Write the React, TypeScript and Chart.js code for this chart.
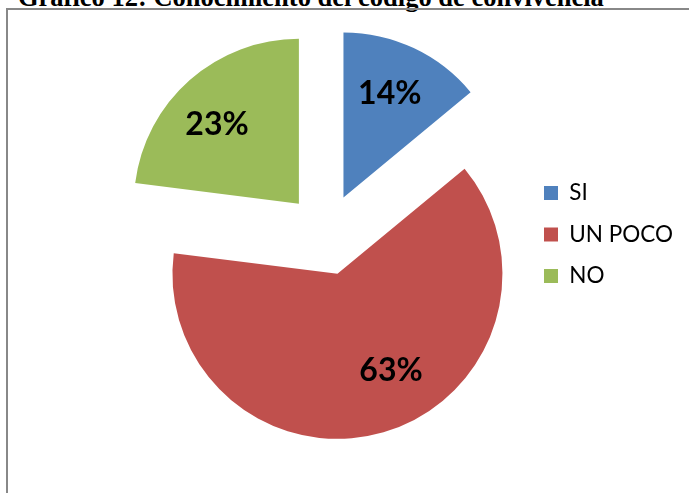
import { useEffect, useRef } from "react";
import { Chart, registerables } from "chart.js";

Chart.register(...registerables);

const categories = ["SI", "UN POCO", "NO"];
const values = [14, 63, 23];
const colors = ["#4F81BD", "#C0504D", "#9BBB59"];
const titleText = "Gráfico 12: Conocimiento del código de convivencia";

const explodePlugin = {
  id: "explode",
  afterDatasetsUpdate(chart: any, _args: any, opts: any) {
    const area = chart.chartArea;
    const cx = (area.left + area.right) / 2;
    const cy = (area.top + area.bottom) / 2;
    const meta = chart.getDatasetMeta(0);
    meta.data.forEach((arc: any) => {
      const mid = (arc.startAngle + arc.endAngle) / 2;
      arc.x = cx + Math.cos(mid) * opts.distance;
      arc.y = cy + Math.sin(mid) * opts.distance;
    });
  },
};

const sliceLabelPlugin = {
  id: "sliceLabels",
  afterDatasetsDraw(chart: any, _args: any, opts: any) {
    const ctx = chart.ctx;
    const meta = chart.getDatasetMeta(0);
    ctx.save();
    ctx.font = opts.font;
    ctx.fillStyle = opts.color;
    ctx.textAlign = "center";
    ctx.textBaseline = "middle";
    meta.data.forEach((arc: any, i: number) => {
      const shift = ((opts.angleShift[i] || 0) * Math.PI) / 180;
      const ang = (arc.startAngle + arc.endAngle) / 2 + shift;
      const d = arc.outerRadius * opts.fraction[i];
      const value = chart.data.datasets[0].data[i];
      ctx.fillText(value + "%", arc.x + Math.cos(ang) * d, arc.y + Math.sin(ang) * d);
    });
    ctx.restore();
  },
};

export default function App() {
  const ref = useRef<HTMLCanvasElement | null>(null);

  useEffect(() => {
    if (!ref.current) return;
    const chart = new Chart(ref.current, {
      type: "pie",
      data: {
        labels: categories,
        datasets: [
          {
            data: values,
            backgroundColor: colors,
            borderWidth: 0,
            radius: 165,
          } as any,
        ],
      },
      options: {
        animation: false,
        responsive: false,
        events: [],
        radius: 165,
        layout: { padding: { left: 127, right: 6, top: 0, bottom: 24 } },
        plugins: {
          tooltip: { enabled: false },
          legend: {
            position: "right",
            labels: {
              boxWidth: 14,
              boxHeight: 14,
              padding: 19,
              color: "#000000",
              font: { family: "Lato", size: 22.5 },
            },
          },
          explode: { distance: 41 },
          sliceLabels: {
            font: "bold 32px Lato",
            color: "#000000",
            fraction: [0.69, 0.67, 0.69],
            angleShift: [-1.2, -12.8, -4.6],
          },
        } as any,
      } as any,
      plugins: [explodePlugin, sliceLabelPlugin],
    });
    return () => chart.destroy();
  }, []);

  return (
    <div
      style={{
        position: "fixed",
        left: 0,
        top: 0,
        width: 689,
        height: 493,
        overflow: "hidden",
        background: "#ffffff",
      }}
    >
      <div
        style={{
          position: "absolute",
          left: 18,
          top: -16,
          whiteSpace: "nowrap",
          fontFamily: "'Liberation Serif', 'Times New Roman', serif",
          fontWeight: "bold",
          fontSize: 26.5,
          lineHeight: "26.5px",
          color: "#000",
        }}
      >
        {titleText}
      </div>
      <div
        style={{
          position: "absolute",
          left: 6,
          top: 8,
          width: 800,
          height: 600,
          borderLeft: "2px solid #888888",
          borderTop: "2px solid #888888",
        }}
      />
      <canvas
        ref={ref}
        width={689}
        height={493}
        style={{ position: "absolute", left: 0, top: 0, width: 689, height: 493 }}
      />
    </div>
  );
}
